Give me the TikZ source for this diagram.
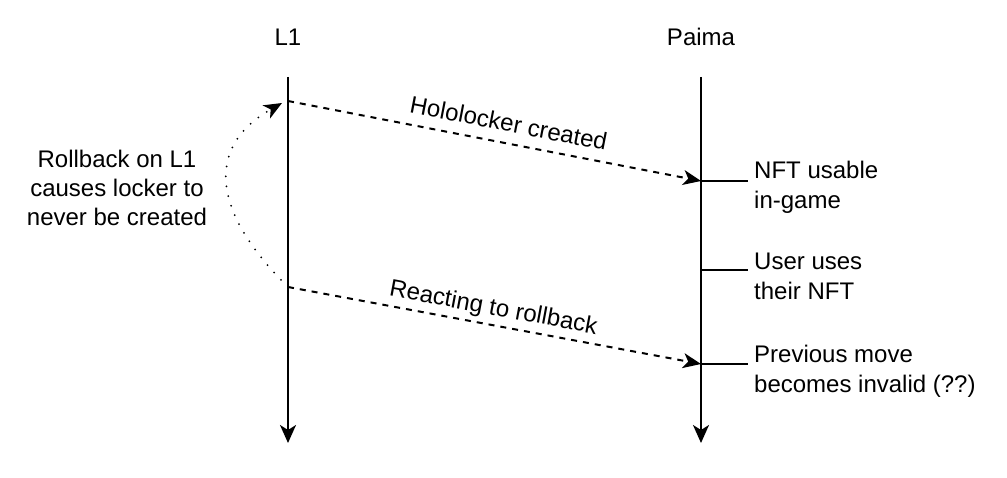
\documentclass[tikz,border=0pt]{standalone}
\usepackage{fontspec}
\setmainfont{Liberation Sans}
\usetikzlibrary{arrows.meta}
\tikzset{
  lbl/.style={font=\fontsize{24}{28.8}\selectfont, inner sep=0pt},
  rlbl/.style={font=\fontsize{24}{29.8}\selectfont, inner sep=0pt, align=left, anchor=west},
  lifeline/.style={line width=2pt, -{Stealth[length=18pt,width=16pt,inset=5pt]}},
  tick/.style={line width=2pt},
  msg/.style={line width=2pt, dash pattern=on 6pt off 6pt, -{Stealth[length=18pt,width=15pt,inset=5pt]}},
  dotline/.style={line width=2pt, line cap=round, dash pattern=on 0pt off 10pt, -{Stealth[length=18pt,width=15pt,inset=5pt]}},
}
\begin{document}
\begin{tikzpicture}[x=1pt,y=-1pt]
\useasboundingbox (0,0) rectangle (1007,478);
% lifeline headers
\node[lbl, anchor=base] (hL1) at (288,46) {L1};
\node[lbl, anchor=base] (hP) at (701,46) {Paima};
% lifeline ends
\coordinate (L1top) at (288,77);
\coordinate (L1bot) at (288,443);
\coordinate (Ptop) at (701,77);
\coordinate (Pbot) at (701,443);
\draw[lifeline] (L1top) -- (L1bot);
\draw[lifeline] (Ptop) -- (Pbot);
% events
\coordinate (a1) at (288,101);
\coordinate (b1) at (701,181);
\coordinate (a2) at (288,287);
\coordinate (b2) at (701,364);
\coordinate (e2) at (701,270);
\coordinate (t1) at (748,181);
\coordinate (t2) at (748,270);
\coordinate (t3) at (748,364);
\coordinate (dotend) at (282,103);
\draw[tick] (b1) -- (t1);
\draw[tick] (e2) -- (t2);
\draw[tick] (b2) -- (t3);
% messages
\draw[msg] (a1) -- node[lbl, sloped, pos=0.525, above=10.5pt] {Hololocker created} (b1);
\draw[msg] (a2) -- node[lbl, sloped, pos=0.49, above=4pt] {Reacting to rollback} (b2);
% rollback curve
\draw[dotline] (a2) .. controls (214,214) and (203,148) .. (dotend);
% texts
\node[lbl, align=center] (rb) at (117,188) {Rollback on L1\\causes locker to\\never be created};
\node[rlbl] (n1) at (754,187) {NFT usable\\in-game};
\node[rlbl] (n2) at (754,276) {User uses\\their NFT};
\node[rlbl] (n3) at (754,371) {Previous move\\becomes invalid (??)};
\end{tikzpicture}
\end{document}
